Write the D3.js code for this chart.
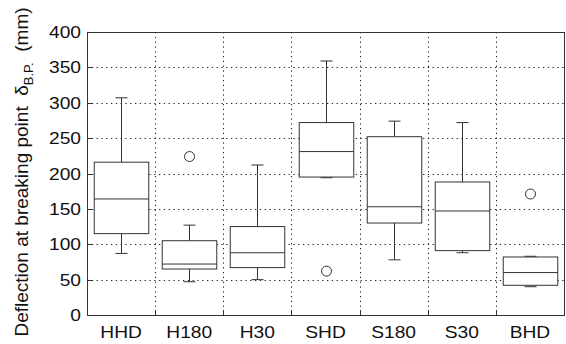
<!DOCTYPE html>
<html>
<head>
<meta charset="utf-8">
<script src="https://cdn.jsdelivr.net/npm/d3@7"></script>
<style>
body { margin: 0; background: #fff; }
text { font-family: "Liberation Sans", Arial, sans-serif; fill: #111; }
</style>
</head>
<body>
<script>
// box plot stats
var groups = ["HHD", "H180", "H30", "SHD", "S180", "S30", "BHD"];
var whiskLow = [87, 47, 50, 194, 78, 88, 40];
var q1 = [115, 65, 67, 195, 130, 91, 42];
var median = [164, 72, 88, 231, 153, 147, 60];
var q3 = [216, 105, 125, 272, 252, 188, 82];
var whiskHigh = [307, 127, 212, 359, 274, 272, 83];
var outliers = [[], [224], [], [62], [], [], [171]];
var yTicks = [0, 50, 100, 150, 200, 250, 300, 350, 400];

var width = 566, height = 344;
var mLeft = 87, mRight = 564, mTop = 32, mBottom = 315;
var stretch = 1.2;

var svg = d3.select('body').append('svg')
    .attr('width', width)
    .attr('height', height);

var x = d3.scaleBand()
    .domain(groups)
    .range([mLeft, mRight]);

var y = d3.scaleLinear()
    .domain([0, 400])
    .range([mBottom, mTop]);

// grid
var grid = svg.append('g')
    .attr('stroke', '#222')
    .attr('stroke-width', 1)
    .attr('stroke-dasharray', '1.3,3.5');
grid.selectAll('line.h').data(yTicks.slice(1, -1)).enter().append('line')
    .attr('x1', mLeft).attr('x2', mRight)
    .attr('y1', function(d) { return Math.round(y(d)) + 0.5; })
    .attr('y2', function(d) { return Math.round(y(d)) + 0.5; });
grid.selectAll('line.v').data(groups.slice(1)).enter().append('line')
    .attr('y1', mTop).attr('y2', mBottom)
    .attr('x1', function(d) { return Math.round(x(d)) + 0.5; })
    .attr('x2', function(d) { return Math.round(x(d)) + 0.5; });

// frame
svg.append('rect')
    .attr('x', mLeft + 0.5).attr('y', mTop + 0.5)
    .attr('width', mRight - mLeft).attr('height', mBottom - mTop)
    .attr('fill', 'none').attr('stroke', '#333');

// ticks
svg.append('g').selectAll('line').data(yTicks).enter().append('line')
    .attr('x1', mLeft).attr('x2', mLeft + 5)
    .attr('y1', function(d) { return Math.round(y(d)) + 0.5; })
    .attr('y2', function(d) { return Math.round(y(d)) + 0.5; })
    .attr('stroke', '#333');
svg.append('g').selectAll('line').data(groups.slice(1)).enter().append('line')
    .attr('y1', mBottom).attr('y2', mBottom - 5)
    .attr('x1', function(d) { return Math.round(x(d)) + 0.5; })
    .attr('x2', function(d) { return Math.round(x(d)) + 0.5; })
    .attr('stroke', '#333');

// tick labels
svg.append('g').selectAll('text').data(yTicks).enter().append('text')
    .attr('transform', function(d) { return 'translate(81,' + (y(d) + 6) + ') scale(' + stretch + ',1)'; })
    .attr('text-anchor', 'end')
    .attr('font-size', 16)
    .text(function(d) { return d; });
svg.append('g').selectAll('text').data(groups).enter().append('text')
    .attr('transform', function(d) { return 'translate(' + (x(d) + x.bandwidth() / 2) + ',338) scale(' + stretch + ',1)'; })
    .attr('text-anchor', 'middle')
    .attr('font-size', 16)
    .text(function(d) { return d; });

// y label
var yl = svg.append('text')
    .attr('transform', 'translate(28,172) rotate(-90)')
    .attr('text-anchor', 'middle')
    .attr('font-size', 19);
yl.append('tspan').text('Deflection at breaking point\u00a0\u00a0\u03b4');
yl.append('tspan').attr('font-size', 13).attr('dy', 5).text('B.P.');
yl.append('tspan').attr('dy', -5).text('\u00a0\u00a0(mm)');

// boxes
var bw = x.bandwidth() * 0.8, cap = 12;
var boxes = svg.append('g').attr('stroke', '#333').attr('stroke-width', 1).attr('fill', 'none');
groups.forEach(function(g, i) {
    var cx = Math.round(x(g) + x.bandwidth() / 2) + 0.5;
    var b = boxes.append('g');
    b.append('line').attr('x1', cx).attr('x2', cx).attr('y1', y(q3[i])).attr('y2', y(whiskHigh[i]));
    b.append('line').attr('x1', cx).attr('x2', cx).attr('y1', y(q1[i])).attr('y2', y(whiskLow[i]));
    b.append('line').attr('x1', cx - cap / 2).attr('x2', cx + cap / 2).attr('y1', y(whiskHigh[i])).attr('y2', y(whiskHigh[i]));
    b.append('line').attr('x1', cx - cap / 2).attr('x2', cx + cap / 2).attr('y1', y(whiskLow[i])).attr('y2', y(whiskLow[i]));
    b.append('rect')
        .attr('x', cx - bw / 2).attr('width', bw)
        .attr('y', y(q3[i])).attr('height', y(q1[i]) - y(q3[i]))
        .attr('fill', '#fff');
    b.append('line').attr('x1', cx - bw / 2).attr('x2', cx + bw / 2).attr('y1', y(median[i])).attr('y2', y(median[i]));
    b.selectAll('circle').data(outliers[i]).enter().append('circle')
        .attr('cx', cx).attr('cy', function(d) { return y(d); })
        .attr('r', 5);
});
</script>
</body>
</html>
